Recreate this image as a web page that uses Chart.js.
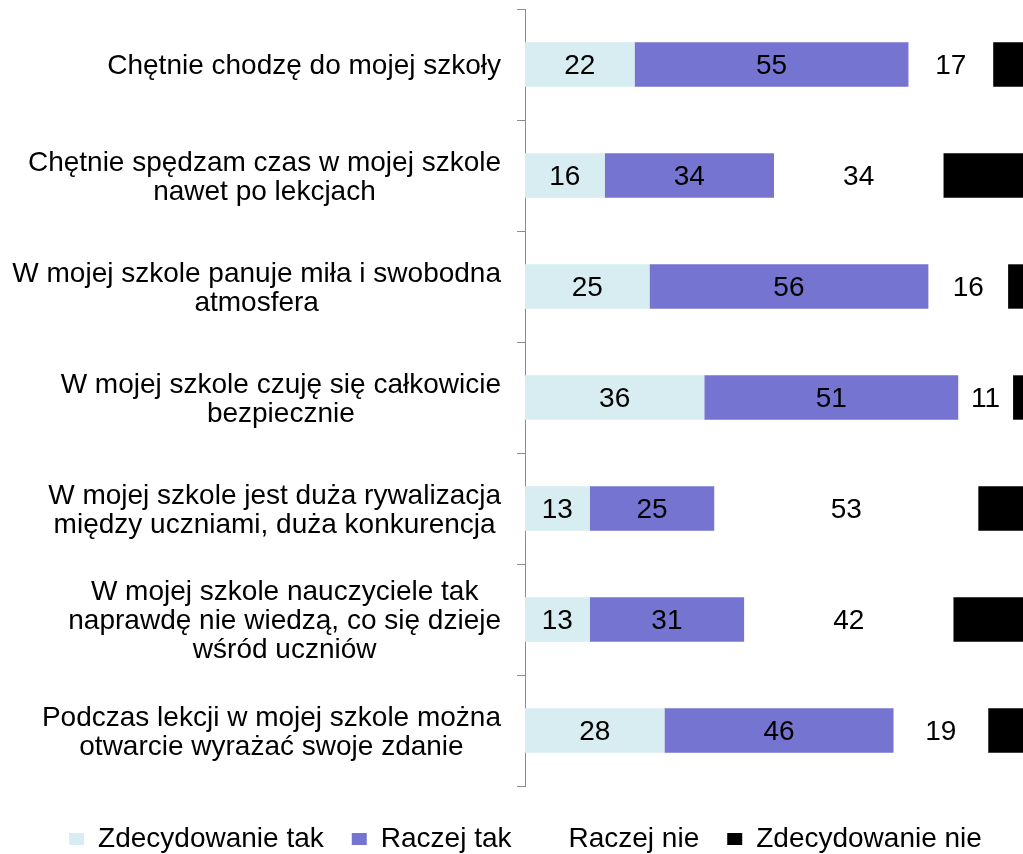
<!DOCTYPE html>
<html>
<head>
<meta charset="utf-8">
<script src="https://cdn.jsdelivr.net/npm/chart.js@4"></script>
<style>
  html, body { margin: 0; padding: 0; background: #fff; overflow: hidden; }
  #wrap { width: 1023px; height: 854px; }
</style>
</head>
<body>
<div id="wrap"><canvas id="chart"></canvas></div>
<script>
// category labels, already broken into lines like in the original
const categories = [
  ['Chętnie chodzę do mojej szkoły'],
  ['Chętnie spędzam czas w mojej szkole', 'nawet po lekcjach'],
  ['W mojej szkole panuje miła i swobodna', 'atmosfera'],
  ['W mojej szkole czuję się całkowicie', 'bezpiecznie'],
  ['W mojej szkole jest duża rywalizacja', 'między uczniami, duża konkurencja'],
  ['W mojej szkole nauczyciele tak', 'naprawdę nie wiedzą, co się dzieje', 'wśród uczniów'],
  ['Podczas lekcji w mojej szkole można', 'otwarcie wyrażać swoje zdanie'],
];

const seriesNames = ['Zdecydowanie tak', 'Raczej tak', 'Raczej nie', 'Zdecydowanie nie'];
const zdecydowanieTak = [22, 16, 25, 36, 13, 13, 28];
const raczejTak = [55, 34, 56, 51, 25, 31, 46];
const raczejNie = [17, 34, 16, 11, 53, 42, 19];
// not labelled in the picture (cut off at the right edge), estimated
const zdecydowanieNie = [6, 16, 3, 2, 9, 14, 7];

const FAMILY = '"Liberation Sans", Arial, sans-serif';
const SIZE = 28;
const FONT = SIZE + 'px ' + FAMILY;
const LINE_H = 29;
const TEXT_DY = 2;

// numbers in the middle of the first three segments
const barValues = {
  id: 'barValues',
  afterDatasetsDraw(chart) {
    const ctx = chart.ctx;
    ctx.save();
    ctx.font = FONT;
    ctx.fillStyle = '#000';
    ctx.textAlign = 'center';
    ctx.textBaseline = 'middle';
    chart.data.datasets.forEach((ds, di) => {
      if (di > 2) return;
      chart.getDatasetMeta(di).data.forEach((bar, i) => {
        ctx.fillText(ds.data[i], (bar.x + bar.base) / 2, bar.y + TEXT_DY);
      });
    });
    ctx.restore();
  },
};

// y labels: block right-aligned to the axis, lines centred inside the block
const categoryLabels = {
  id: 'categoryLabels',
  afterDraw(chart) {
    const ctx = chart.ctx;
    const yScale = chart.scales.y;
    const right = chart.chartArea.left - 24;
    ctx.save();
    ctx.font = FONT;
    ctx.fillStyle = '#000';
    ctx.textAlign = 'center';
    ctx.textBaseline = 'middle';
    chart.data.labels.forEach((lines, i) => {
      const w = Math.max(...lines.map((l) => ctx.measureText(l).width));
      const cx = right - w / 2;
      const cy = yScale.getPixelForValue(i) + TEXT_DY;
      lines.forEach((l, j) => {
        ctx.fillText(l, cx, cy + (j - (lines.length - 1) / 2) * LINE_H);
      });
    });
    ctx.restore();
  },
};

const colors = ['#D8EDF1', '#7574D0', '#FFFFFF', '#000000'];
const series = [zdecydowanieTak, raczejTak, raczejNie, zdecydowanieNie];

new Chart(document.getElementById('chart'), {
  type: 'bar',
  data: {
    labels: categories,
    datasets: series.map((data, i) => ({
      label: seriesNames[i],
      data: data,
      backgroundColor: colors[i],
      borderWidth: 0,
      barPercentage: 0.4,
      categoryPercentage: 1,
    })),
  },
  options: {
    indexAxis: 'y',
    responsive: true,
    maintainAspectRatio: false,
    animation: false,
    devicePixelRatio: 1,
    layout: { padding: { top: 9, left: 28, right: 0, bottom: -9 } },
    scales: {
      x: {
        stacked: true,
        min: 0,
        max: 100,
        grid: { display: false },
        border: { display: false },
        ticks: { display: false },
        afterFit: (s) => { s.height = 11; },
      },
      y: {
        stacked: true,
        grid: {
          display: true,
          drawOnChartArea: false,
          drawTicks: true,
          tickLength: 8,
          offset: true,
          color: '#8c8c8c',
        },
        border: { display: true, color: '#8c8c8c' },
        ticks: { display: false },
        afterFit: (s) => { s.width = 497; },
      },
    },
    plugins: {
      legend: {
        position: 'bottom',
        labels: {
          font: { family: FAMILY, size: SIZE },
          color: '#000',
          boxWidth: 15,
          boxHeight: 12,
          padding: 28,
        },
      },
      tooltip: { enabled: false },
    },
  },
  plugins: [barValues, categoryLabels],
});
</script>
</body>
</html>
